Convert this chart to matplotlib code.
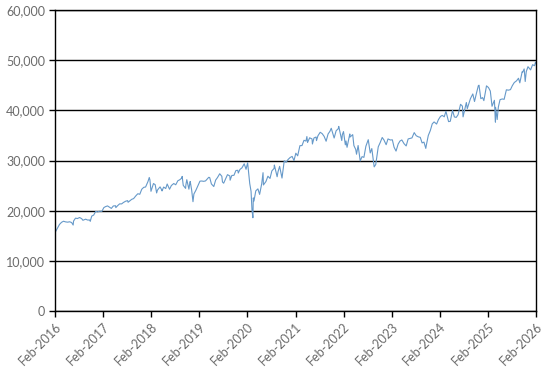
import matplotlib
matplotlib.use('Agg')
import matplotlib.pyplot as plt
import matplotlib.ticker as mticker
import pandas as pd

# Index level (approx. twice a month plus swing highs/lows)
dates = [
    '2016-02-10', '2016-02-11', '2016-02-29', '2016-03-15', '2016-03-31', '2016-04-15', '2016-04-29',
    '2016-05-16', '2016-05-31', '2016-06-15', '2016-06-27', '2016-06-30', '2016-07-15', '2016-07-29',
    '2016-08-15', '2016-08-31', '2016-09-09', '2016-09-30', '2016-10-14', '2016-10-31', '2016-11-04',
    '2016-11-15', '2016-11-30', '2016-12-15', '2016-12-30',
    '2017-01-13', '2017-01-31', '2017-02-15', '2017-02-28', '2017-03-15', '2017-03-31', '2017-04-13',
    '2017-04-28', '2017-05-15', '2017-05-17', '2017-05-31', '2017-06-15', '2017-06-30', '2017-07-14',
    '2017-07-31', '2017-08-15', '2017-08-18', '2017-08-31', '2017-09-15', '2017-09-29', '2017-10-16',
    '2017-10-31', '2017-11-15', '2017-11-30', '2017-12-15', '2017-12-29',
    '2018-01-16', '2018-01-26', '2018-01-31', '2018-02-08', '2018-02-27', '2018-03-12', '2018-03-23',
    '2018-03-29', '2018-04-18', '2018-04-30', '2018-05-03', '2018-05-15', '2018-05-31', '2018-06-11',
    '2018-06-29', '2018-07-13', '2018-07-31', '2018-08-15', '2018-08-31', '2018-09-14', '2018-09-28',
    '2018-10-03', '2018-10-11', '2018-10-29', '2018-10-31', '2018-11-07', '2018-11-23', '2018-11-30',
    '2018-12-03', '2018-12-14', '2018-12-24', '2018-12-31',
    '2019-01-15', '2019-01-31', '2019-02-15', '2019-02-28', '2019-03-15', '2019-03-29', '2019-04-23',
    '2019-04-30', '2019-05-13', '2019-05-31', '2019-06-14', '2019-06-28', '2019-07-15', '2019-07-31',
    '2019-08-05', '2019-08-14', '2019-08-30', '2019-09-12', '2019-09-30', '2019-10-02', '2019-10-15',
    '2019-10-31', '2019-11-15', '2019-11-29', '2019-12-03', '2019-12-16', '2019-12-31',
    '2020-01-17', '2020-01-31', '2020-02-12', '2020-02-28', '2020-03-09', '2020-03-16', '2020-03-23',
    '2020-03-26', '2020-03-31', '2020-04-14', '2020-04-30', '2020-05-13', '2020-05-29', '2020-06-08',
    '2020-06-11', '2020-06-30', '2020-07-15', '2020-07-31', '2020-08-14', '2020-08-31', '2020-09-02',
    '2020-09-23', '2020-09-30', '2020-10-12', '2020-10-30', '2020-11-16', '2020-11-30', '2020-12-15',
    '2020-12-31',
    '2021-01-15', '2021-01-29', '2021-02-12', '2021-02-26', '2021-03-15', '2021-03-31', '2021-04-15',
    '2021-04-30', '2021-05-07', '2021-05-12', '2021-05-28', '2021-06-15', '2021-06-18', '2021-06-30',
    '2021-07-16', '2021-07-19', '2021-07-30', '2021-08-16', '2021-08-31', '2021-09-15', '2021-09-30',
    '2021-10-15', '2021-10-29', '2021-11-08', '2021-11-30', '2021-12-15', '2021-12-31',
    '2022-01-04', '2022-01-27', '2022-01-31', '2022-02-09', '2022-02-23', '2022-02-28', '2022-03-08',
    '2022-03-29', '2022-03-31', '2022-04-20', '2022-04-29', '2022-05-13', '2022-05-19', '2022-05-31',
    '2022-06-16', '2022-06-30', '2022-07-14', '2022-07-29', '2022-08-16', '2022-08-31', '2022-09-12',
    '2022-09-30', '2022-10-12', '2022-10-31', '2022-11-15', '2022-11-30', '2022-12-13', '2022-12-30',
    '2023-01-13', '2023-01-31', '2023-02-15', '2023-02-28', '2023-03-15', '2023-03-31', '2023-04-14',
    '2023-04-28', '2023-05-15', '2023-05-31', '2023-06-15', '2023-06-30', '2023-07-14', '2023-07-31',
    '2023-08-15', '2023-08-31', '2023-09-15', '2023-09-29', '2023-10-13', '2023-10-27', '2023-10-31',
    '2023-11-15', '2023-11-30', '2023-12-15', '2023-12-29',
    '2024-01-17', '2024-01-31', '2024-02-15', '2024-02-29', '2024-03-15', '2024-03-28', '2024-04-17',
    '2024-04-30', '2024-05-17', '2024-05-31', '2024-06-14', '2024-06-28', '2024-07-17', '2024-07-31',
    '2024-08-05', '2024-08-30', '2024-09-06', '2024-09-30', '2024-10-18', '2024-10-31', '2024-11-15',
    '2024-11-29', '2024-12-04', '2024-12-18', '2024-12-31',
    '2025-01-10', '2025-01-30', '2025-02-14', '2025-02-28', '2025-03-13', '2025-03-31', '2025-04-08',
    '2025-04-09', '2025-04-21', '2025-04-30', '2025-05-13', '2025-05-30', '2025-06-13', '2025-06-30',
    '2025-07-15', '2025-07-31', '2025-08-14', '2025-08-29', '2025-09-15', '2025-09-30', '2025-10-10',
    '2025-10-28', '2025-10-31', '2025-11-12', '2025-11-20', '2025-11-28', '2025-12-11', '2025-12-31',
    '2026-01-15', '2026-01-30', '2026-02-06', '2026-02-10',
]
values = [
    15914, 15660, 16517, 17251, 17685, 17897, 17774,
    17711, 17787, 17640, 17140, 17930, 18516, 18432,
    18636, 18401, 18085, 18308, 18138, 18142, 17888,
    18923, 19124, 19852, 19763,
    19886, 19864, 20611, 20812, 20950, 20663, 20453,
    20941, 20981, 20606, 21009, 21360, 21350, 21638,
    21891, 22000, 21675, 21948, 22268, 22405, 22957,
    23377, 23271, 24272, 24651, 24719,
    25793, 26617, 26149, 23860, 25410, 25178, 23533,
    24103, 24748, 24163, 23930, 24706, 24416, 25322,
    24271, 25019, 25415, 25162, 25965, 26154, 26458,
    26828, 25052, 24443, 25116, 26180, 24286, 25538,
    25826, 24101, 21792, 23327,
    24065, 24999, 25883, 25916, 25849, 25929, 26656,
    26593, 25324, 24815, 26090, 26600, 27359, 26864,
    25718, 25479, 26403, 27182, 26917, 26079, 27024,
    27046, 28005, 28051, 27503, 28235, 28538,
    29348, 28256, 29551, 25409, 23851, 20189, 18592,
    22552, 21917, 23950, 24346, 23248, 25383, 27572,
    25128, 25813, 26870, 26428, 27931, 28430, 29100,
    26763, 27782, 28838, 26502, 29950, 29638, 30200,
    30606,
    30814, 29983, 31458, 30932, 32953, 32982, 34036,
    33875, 34778, 33587, 34529, 34300, 33290, 34503,
    34688, 33962, 34935, 35625, 35361, 34814, 33844,
    35295, 35820, 36432, 34484, 35927, 36338,
    36800, 33983, 35132, 35768, 33131, 33893, 32633,
    35294, 34678, 35161, 32977, 32197, 31253, 32990,
    29927, 30775, 30630, 32845, 34152, 31510, 32381,
    28726, 29210, 32733, 33593, 34590, 34108, 33147,
    34303, 34086, 34128, 32657, 31875, 33274, 33886,
    34098, 33348, 32908, 34300, 34408, 34509, 35560,
    34946, 34722, 34618, 33508, 33670, 32418, 33053,
    34991, 35951, 37306, 37690,
    37267, 38150, 38773, 38996, 38715, 39807, 37753,
    37816, 40004, 38686, 38589, 39119, 41198, 40843,
    38703, 41563, 40345, 42330, 43276, 41763, 43445,
    44911, 45014, 42327, 42544,
    41938, 44882, 44546, 43841, 40813, 42002, 37645,
    40608, 38170, 40669, 42140, 42270, 42198, 44095,
    44023, 44131, 44911, 45545, 45883, 46398, 45480,
    47706, 47563, 48254, 45752, 47716, 48704, 48063,
    49100, 48900, 49600, 49300,
]
tick_labels = ['Feb-2016', 'Feb-2017', 'Feb-2018', 'Feb-2019', 'Feb-2020', 'Feb-2021',
               'Feb-2022', 'Feb-2023', 'Feb-2024', 'Feb-2025', 'Feb-2026']

x = pd.to_datetime(dates)
ticks = pd.to_datetime(['%s-02-10' % lab[-4:] for lab in tick_labels])

text_color = '#6b6b6b'
plt.rcParams['font.family'] = ['Lato', 'DejaVu Sans']

fig = plt.figure(figsize=(5.46, 3.71), dpi=100)
ax = fig.add_axes([0.1007, 0.1617, 0.881, 0.8113])

ax.plot(x, values, color='#6699C9', linewidth=0.8)

ax.set_ylim(0, 60000)
ax.set_xlim(ticks[0], ticks[-1])
ax.yaxis.set_major_locator(mticker.MultipleLocator(10000))
ax.yaxis.set_major_formatter(mticker.FuncFormatter(lambda v, p: f'{v:,.0f}'))
ax.grid(axis='y', color='black', linewidth=1)
ax.set_axisbelow(True)

ax.set_xticks(ticks)
ax.set_xticklabels(tick_labels, rotation=45, ha='right', rotation_mode='anchor')

for s in ax.spines.values():
    s.set_color('black')
    s.set_linewidth(1)

ax.tick_params(axis='both', colors='black', labelcolor=text_color, labelsize=9,
               length=4, width=1, direction='out')
ax.tick_params(axis='y', pad=3)
ax.tick_params(axis='x', pad=3)

fig.savefig('out.png', dpi=100)
